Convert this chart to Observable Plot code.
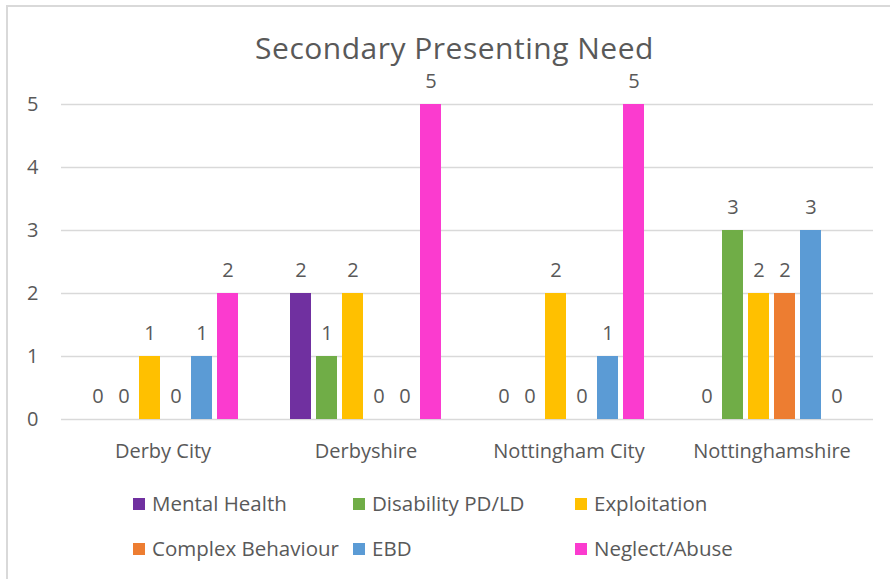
<!DOCTYPE html>
<html><head><meta charset="utf-8">
<script src="https://cdn.jsdelivr.net/npm/d3@7"></script>
<script src="https://cdn.jsdelivr.net/npm/@observablehq/plot@0.6"></script>
<style>
body{margin:0;background:#fff;font-family:"Open Sans",sans-serif;color:#595959;}
#wrap{position:relative;width:890px;height:579px;overflow:hidden;background:#fff;}
#frame{position:absolute;left:6px;top:5px;width:1000px;height:1000px;border-left:2px solid #d9d9d9;border-top:2px solid #d9d9d9;z-index:2;pointer-events:none;}
#title{position:absolute;left:0;width:909px;top:32px;text-align:center;font-size:30px;letter-spacing:0.5px;line-height:32px;}
#chart{position:absolute;left:0;top:74px;}
.leg{position:absolute;font-size:20.5px;line-height:24px;white-space:nowrap;}
.sw{position:absolute;width:12px;height:12px;}
</style></head>
<body>
<div id="wrap">
<div id="frame"></div>
<div id="title">Secondary Presenting Need</div>
<div id="chart"></div>
</div>
<script>
const groups = ["Derby City", "Derbyshire", "Nottingham City", "Nottinghamshire"];
const series = ["Mental Health", "Disability PD/LD", "Exploitation", "Complex Behaviour", "EBD", "Neglect/Abuse"];
const colors = ["#7030A0", "#70AD47", "#FFC000", "#ED7D31", "#5B9BD5", "#FB3BCF"];
const mentalHealth = [0, 2, 0, 0];
const disability = [0, 1, 0, 3];
const exploitation = [1, 2, 2, 2];
const complexBehaviour = [0, 0, 0, 2];
const ebd = [1, 0, 1, 3];
const neglectAbuse = [2, 5, 5, 0];
const yTicks = [0, 1, 2, 3, 4, 5];

const valuesBySeries = [mentalHealth, disability, exploitation, complexBehaviour, ebd, neglectAbuse];
const rows = [];
groups.forEach((g, gi) => series.forEach((s, si) => rows.push({group: g, series: s, value: valuesBySeries[si][gi]})));

const chart = Plot.plot({
  width: 890, height: 401,
  marginTop: 30, marginBottom: 56, marginLeft: 60, marginRight: 16,
  facet: {data: rows, x: "group", label: null},
  fx: {domain: groups, padding: 0, label: null, tickSize: 0, tickPadding: 24},
  x: {domain: series, paddingInner: 0.2, paddingOuter: 0.8685, axis: null},
  y: {domain: [0, 5], ticks: yTicks, tickFormat: "d", tickSize: 0, tickPadding: 23, label: null},
  color: {domain: series, range: colors},
  style: {fontFamily: "Open Sans", fontSize: "20px", color: "#595959", background: "transparent", overflow: "visible"},
  marks: [
    Plot.ruleY(yTicks, {stroke: "#d9d9d9", strokeWidth: 1.5}),
    Plot.barY(rows, {x: "series", y: "value", fill: "series"}),
    Plot.text(rows, {x: "series", y: "value", text: d => String(d.value), dy: -23, fill: "#595959", fontSize: 20})
  ]
});
document.getElementById("chart").appendChild(chart);

// legend
const legCols = [133, 353, 575];
const legRows = [504, 549];
series.forEach((s, i) => {
  const cx = legCols[i % 3], cy = legRows[Math.floor(i / 3)];
  const sw = document.createElement("div");
  sw.className = "sw";
  sw.style.left = cx + "px"; sw.style.top = (cy - 6) + "px"; sw.style.background = colors[i];
  const t = document.createElement("div");
  t.className = "leg";
  t.style.left = (cx + 19) + "px"; t.style.top = (cy - 13) + "px";
  t.textContent = s;
  document.getElementById("wrap").appendChild(sw);
  document.getElementById("wrap").appendChild(t);
});
</script>
</body></html>
